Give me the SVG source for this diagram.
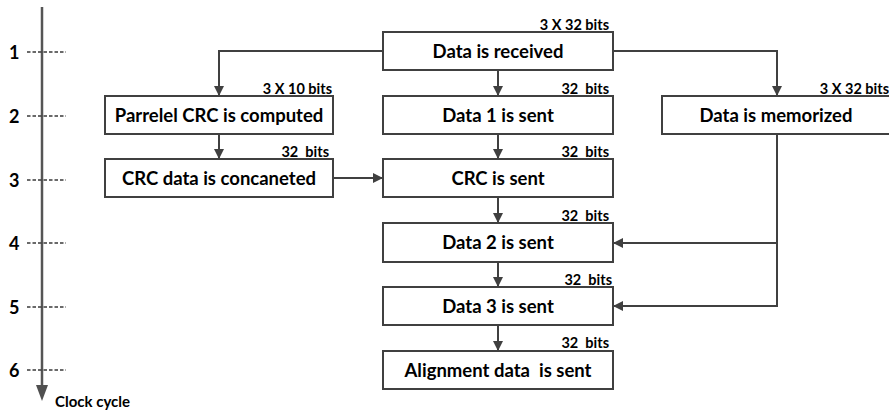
<svg xmlns="http://www.w3.org/2000/svg" width="889" height="411" viewBox="0 0 889 411">
<style>
text{white-space:pre}
.box{fill:#fff;stroke:#404040;stroke-width:2}
.t{font-family:Lato,"Liberation Sans",sans-serif;font-weight:bold;font-size:18.5px;fill:#000;text-anchor:middle}
.b{font-family:Lato,"Liberation Sans",sans-serif;font-weight:bold;font-size:14.5px;fill:#000;text-anchor:end}
.n{font-family:Lato,"Liberation Sans",sans-serif;font-weight:bold;font-size:18px;fill:#000}
.c{fill:none;stroke:#404040;stroke-width:2}
.d{fill:none;stroke:#3a3a3a;stroke-width:1.6;stroke-dasharray:3.5,2}
</style>
<defs>
<marker id="ah" viewBox="0 0 10 10" refX="10" refY="5" markerWidth="5" markerHeight="5" markerUnits="strokeWidth" orient="auto">
<path d="M0,0 L10,5 L0,10 z" fill="#404040"/>
</marker>
</defs>
<g id="axis">
<line x1="42" y1="7" x2="42" y2="388" stroke="#555" stroke-width="2.5"/>
<path d="M36,385 L48,385 L42,401 z" fill="#505050"/>
<line class="d" x1="27" y1="52" x2="66" y2="52"/>
<line class="d" x1="27" y1="116" x2="66" y2="116"/>
<line class="d" x1="27" y1="180" x2="66" y2="180"/>
<line class="d" x1="27" y1="243" x2="66" y2="243"/>
<line class="d" x1="27" y1="307" x2="66" y2="307"/>
<line class="d" x1="27" y1="370" x2="66" y2="370"/>
<text class="n" x="9" y="59">1</text>
<text class="n" x="9" y="123">2</text>
<text class="n" x="9" y="187">3</text>
<text class="n" x="9" y="250">4</text>
<text class="n" x="9" y="314">5</text>
<text class="n" x="9" y="377">6</text>
<text class="n" x="55" y="407" style="font-size:15px">Clock cycle</text>
</g>
<g id="connectors">
<path class="c" d="M383,51 H219 V96" marker-end="url(#ah)"/>
<path class="c" d="M613,51 H777 V96" marker-end="url(#ah)"/>
<path class="c" d="M498,70 V96" marker-end="url(#ah)"/>
<path class="c" d="M498,134 V159" marker-end="url(#ah)"/>
<path class="c" d="M219,134 V159" marker-end="url(#ah)"/>
<path class="c" d="M333,178 H383" marker-end="url(#ah)"/>
<path class="c" d="M498,197 V223" marker-end="url(#ah)"/>
<path class="c" d="M498,262 V287" marker-end="url(#ah)"/>
<path class="c" d="M498,325 V351" marker-end="url(#ah)"/>
<path class="c" d="M777,134 V306 H613" marker-end="url(#ah)"/>
<path class="c" d="M777,243 H613" marker-end="url(#ah)"/>
</g>
<g id="received">
<rect class="box" x="383" y="32" width="230" height="38"/>
<text class="t" x="498" y="57.5">Data is received</text>
<text class="b" x="609" y="30">3 X 32 bits</text>
</g>
<g id="parallel-crc">
<rect class="box" x="105" y="96" width="228" height="38"/>
<text class="t" x="219" y="121.5">Parrelel CRC is computed</text>
<text class="b" x="332" y="94">3 X 10 bits</text>
</g>
<g id="data1">
<rect class="box" x="383" y="96" width="230" height="38"/>
<text class="t" x="498" y="121.5">Data 1 is sent</text>
<text class="b" x="609" y="94">32  bits</text>
</g>
<g id="memorized">
<rect class="box" x="662" y="96" width="228" height="38"/>
<text class="t" x="776" y="121.5">Data is memorized</text>
<text class="b" x="889" y="94">3 X 32 bits</text>
</g>
<g id="crc-concat">
<rect class="box" x="105" y="159" width="228" height="38"/>
<text class="t" x="219" y="184.5">CRC data is concaneted</text>
<text class="b" x="329" y="157">32  bits</text>
</g>
<g id="crc-sent">
<rect class="box" x="383" y="159" width="230" height="38"/>
<text class="t" x="498" y="184.5">CRC is sent</text>
<text class="b" x="609" y="157">32  bits</text>
</g>
<g id="data2">
<rect class="box" x="383" y="223" width="230" height="39"/>
<text class="t" x="498" y="248.5">Data 2 is sent</text>
<text class="b" x="609" y="221">32  bits</text>
</g>
<g id="data3">
<rect class="box" x="383" y="287" width="230" height="38"/>
<text class="t" x="498" y="312.5">Data 3 is sent</text>
<text class="b" x="612" y="285">32  bits</text>
</g>
<g id="alignment">
<rect class="box" x="383" y="351" width="230" height="38"/>
<text class="t" x="498" y="376.5">Alignment data  is sent</text>
<text class="b" x="609" y="348">32  bits</text>
</g>
</svg>
